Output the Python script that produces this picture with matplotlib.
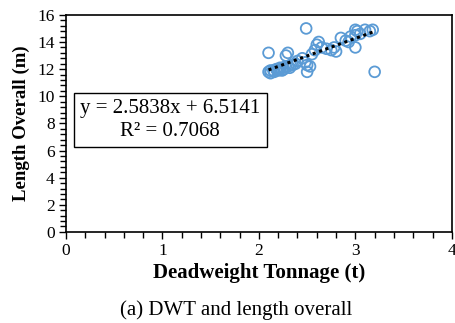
import matplotlib
matplotlib.use("Agg")
import matplotlib.pyplot as plt
import numpy as np
from matplotlib.ticker import MultipleLocator

dwt = [2.10, 2.12, 2.15, 2.18, 2.20, 2.22, 2.25, 2.28, 2.30, 2.33, 2.35, 2.38, 2.12, 2.20, 2.26,
       2.10, 2.30, 2.28, 2.40, 2.45, 2.48, 2.50, 2.53, 2.50, 2.49, 2.55, 2.58, 2.60, 2.62, 2.65,
       2.70, 2.75, 2.78, 2.80, 2.85, 2.90, 2.93, 2.95, 3.00, 3.00, 3.02, 3.05, 3.10, 3.15, 3.18,
       3.20, 3.00, 2.16, 2.24, 2.32]
loa = [11.8, 11.9, 11.9, 12.0, 12.0, 12.1, 12.1, 12.2, 12.2, 12.3, 12.3, 12.4, 11.7, 11.9, 12.0,
       13.2, 13.2, 13.0, 12.6, 12.8, 12.5, 12.3, 12.2, 11.8, 15.0, 13.1, 13.4, 13.8, 14.0, 13.6,
       13.5, 13.4, 13.6, 13.3, 14.3, 14.1, 14.0, 14.4, 13.6, 14.9, 14.8, 14.6, 14.9, 14.8, 14.9,
       11.8, 14.5, 11.8, 11.9, 12.1]
slope = 2.5838
intercept = 6.5141
r2 = 0.7068

plt.rcParams['font.family'] = ['Liberation Serif', 'DejaVu Serif']

fig = plt.figure(figsize=(4.55, 3.23), dpi=100)
ax = fig.add_axes([0.145, 0.282, 0.848, 0.672])

ax.scatter(dwt, loa, s=60, facecolors='none', edgecolors='#5B9BD5', linewidths=1.3, zorder=2)
xs = np.array([min(dwt), max(dwt)])
ax.plot(xs, slope * xs + intercept, linestyle=(0, (1, 1.2)), color='black', linewidth=2.2, zorder=3)

ax.set_xlim(0, 4)
ax.set_ylim(0, 16)
ax.xaxis.set_major_locator(MultipleLocator(1))
ax.xaxis.set_minor_locator(MultipleLocator(0.2))
ax.yaxis.set_major_locator(MultipleLocator(2))
ax.yaxis.set_minor_locator(MultipleLocator(0.4))
ax.tick_params(which='both', direction='out', width=1, labelsize=12.5, colors='black')
ax.tick_params(which='major', length=5, pad=3)
ax.tick_params(which='minor', length=4)
for s in ax.spines.values():
    s.set_linewidth(1.2)

ax.set_xlabel('Deadweight Tonnage (t)', fontsize=15, fontweight='bold', labelpad=3)
ax.set_ylabel('Length Overall (m)', fontsize=13.5, fontweight='bold', labelpad=5)

ax.text(1.08, 8.26, f'y = {slope}x + {intercept}\nR² = {r2}', fontsize=15, ha='center', va='center',
        linespacing=1.3,
        bbox=dict(boxstyle='square,pad=0.3', facecolor='white', edgecolor='black', linewidth=1))

fig.text(0.52, 0.04, '(a) DWT and length overall', fontsize=15, ha='center', va='center')

fig.savefig('out.png', dpi=100)
